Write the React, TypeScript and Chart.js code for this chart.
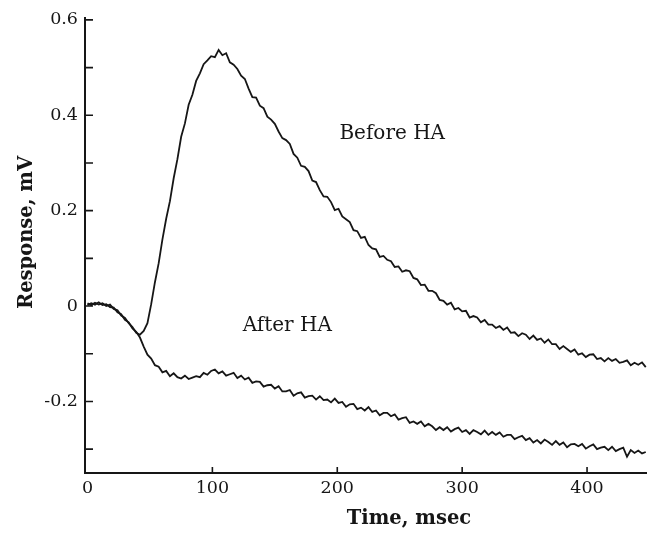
import { useEffect, useRef } from "react";
import { Chart, registerables } from "chart.js";

Chart.register(...registerables);

// Sampling times (ms)
const TIME_MS = [
  0, 3, 6, 9, 12, 15, 18, 21, 24, 27,
  30, 33, 36, 39, 42, 45, 48, 51, 54, 57,
  60, 63, 66, 69, 72, 75, 78, 81, 84, 87,
  90, 93, 96, 99, 102, 105, 108, 111, 114, 117,
  120, 123, 126, 129, 132, 135, 138, 141, 144, 147,
  150, 153, 156, 159, 162, 165, 168, 171, 174, 177,
  180, 183, 186, 189, 192, 195, 198, 201, 204, 207,
  210, 213, 216, 219, 222, 225, 228, 231, 234, 237,
  240, 243, 246, 249, 252, 255, 258, 261, 264, 267,
  270, 273, 276, 279, 282, 285, 288, 291, 294, 297,
  300, 303, 306, 309, 312, 315, 318, 321, 324, 327,
  330, 333, 336, 339, 342, 345, 348, 351, 354, 357,
  360, 363, 366, 369, 372, 375, 378, 381, 384, 387,
  390, 393, 396, 399, 402, 405, 408, 411, 414, 417,
  420, 423, 426, 429, 432, 435, 438, 441, 444, 447,
];

// Response before HA (mV)
const BEFORE_HA = [
  0.006, 0.002, 0.007, 0.003, 0.006, 0.000, 0.003, -0.006, -0.009, -0.020,
  -0.025, -0.036, -0.044, -0.056, -0.060, -0.052, -0.036, 0.004, 0.050, 0.090,
  0.140, 0.183, 0.220, 0.268, 0.308, 0.355, 0.383, 0.422, 0.443, 0.472,
  0.488, 0.507, 0.515, 0.524, 0.522, 0.537, 0.526, 0.530, 0.511, 0.506,
  0.497, 0.483, 0.476, 0.456, 0.438, 0.437, 0.420, 0.415, 0.397, 0.391,
  0.382, 0.366, 0.352, 0.348, 0.340, 0.319, 0.311, 0.294, 0.292, 0.283,
  0.263, 0.260, 0.243, 0.230, 0.229, 0.218, 0.201, 0.204, 0.188, 0.182,
  0.176, 0.159, 0.157, 0.143, 0.145, 0.128, 0.121, 0.119, 0.103, 0.105,
  0.097, 0.094, 0.082, 0.083, 0.072, 0.075, 0.073, 0.059, 0.056, 0.044,
  0.045, 0.032, 0.032, 0.027, 0.013, 0.011, 0.003, 0.007, -0.007, -0.004,
  -0.011, -0.010, -0.024, -0.021, -0.024, -0.034, -0.029, -0.039, -0.039, -0.046,
  -0.042, -0.050, -0.045, -0.056, -0.055, -0.063, -0.057, -0.060, -0.069, -0.062,
  -0.071, -0.068, -0.077, -0.070, -0.080, -0.080, -0.090, -0.084, -0.090, -0.096,
  -0.091, -0.102, -0.099, -0.107, -0.102, -0.101, -0.111, -0.109, -0.116, -0.109,
  -0.115, -0.111, -0.119, -0.117, -0.114, -0.124, -0.119, -0.123, -0.118, -0.128,
];

// Response after HA (mV)
const AFTER_HA = [
  0.002, 0.006, 0.003, 0.008, 0.002, 0.004, -0.002, -0.003, -0.013, -0.017,
  -0.029, -0.034, -0.047, -0.054, -0.066, -0.085, -0.102, -0.110, -0.124, -0.127,
  -0.139, -0.136, -0.147, -0.141, -0.149, -0.152, -0.146, -0.153, -0.150, -0.147,
  -0.149, -0.140, -0.144, -0.136, -0.133, -0.141, -0.137, -0.146, -0.143, -0.140,
  -0.151, -0.146, -0.154, -0.150, -0.161, -0.158, -0.159, -0.169, -0.166, -0.165,
  -0.173, -0.168, -0.179, -0.179, -0.176, -0.188, -0.183, -0.181, -0.192, -0.189,
  -0.188, -0.196, -0.189, -0.197, -0.196, -0.202, -0.194, -0.203, -0.201, -0.211,
  -0.206, -0.205, -0.216, -0.213, -0.219, -0.212, -0.222, -0.219, -0.229, -0.224,
  -0.224, -0.231, -0.227, -0.238, -0.235, -0.233, -0.245, -0.242, -0.247, -0.242,
  -0.252, -0.247, -0.252, -0.260, -0.254, -0.260, -0.254, -0.263, -0.258, -0.255,
  -0.264, -0.260, -0.268, -0.260, -0.264, -0.269, -0.261, -0.270, -0.264, -0.270,
  -0.265, -0.274, -0.270, -0.270, -0.279, -0.275, -0.272, -0.281, -0.277, -0.286,
  -0.281, -0.288, -0.280, -0.285, -0.291, -0.283, -0.291, -0.286, -0.296, -0.290,
  -0.289, -0.294, -0.289, -0.299, -0.294, -0.290, -0.300, -0.297, -0.295, -0.302,
  -0.295, -0.304, -0.300, -0.297, -0.316, -0.302, -0.308, -0.303, -0.309, -0.306,
];

const X_TICKS = [0, 100, 200, 300, 400];
const X_TICK_LABELS = ["0", "100", "200", "300", "400"];
const Y_TICKS = [-0.3, -0.2, -0.1, 0, 0.1, 0.2, 0.3, 0.4, 0.5, 0.6];
const Y_TICK_LABELS = ["", "-0.2", "", "0", "", "0.2", "", "0.4", "", "0.6"];

const X_TITLE = "Time, msec";
const Y_TITLE = "Response, mV";

const ANNOTATION_TEXT = ["Before HA", "After HA"];
const ANNOTATION_T = [244, 160];
const ANNOTATION_V = [0.362, -0.042];

const INK = "#161616";
const SERIF = '"DejaVu Serif", serif';

const decorPlugin = {
  id: "decor",
  afterDraw(chart: any) {
    const { ctx, chartArea } = chart;
    const x = chart.scales.x;
    const y = chart.scales.y;
    ctx.save();
    // inward tick marks
    ctx.strokeStyle = INK;
    ctx.lineWidth = 1.6;
    ctx.beginPath();
    for (const v of Y_TICKS) {
      const py = y.getPixelForValue(v);
      ctx.moveTo(chartArea.left, py);
      ctx.lineTo(chartArea.left + 8, py);
    }
    for (const v of X_TICKS) {
      if (v === 0) continue;
      const px = x.getPixelForValue(v);
      ctx.moveTo(px, chartArea.bottom);
      ctx.lineTo(px, chartArea.bottom - 6);
    }
    ctx.stroke();

    // curve labels
    ctx.fillStyle = INK;
    ctx.font = `20px ${SERIF}`;
    ctx.textAlign = "center";
    ctx.textBaseline = "middle";
    ANNOTATION_TEXT.forEach((txt, i) => {
      ctx.fillText(txt, x.getPixelForValue(ANNOTATION_T[i]), y.getPixelForValue(ANNOTATION_V[i]));
    });

    // axis titles
    ctx.font = `bold 19.5px ${SERIF}`;
    ctx.textBaseline = "alphabetic";
    ctx.fillText(X_TITLE, chartArea.left + 324, chartArea.bottom + 51);

    ctx.translate(32, chartArea.top + 215);
    ctx.rotate(-Math.PI / 2);
    ctx.fillText(Y_TITLE, 0, 0);
    ctx.restore();
  },
};

export default function App() {
  const canvasRef = useRef<HTMLCanvasElement | null>(null);

  useEffect(() => {
    if (!canvasRef.current) return;
    const mk = (vals: number[]) => TIME_MS.map((t, i) => ({ x: t, y: vals[i] }));
    const chart = new Chart(canvasRef.current, {
      type: "line",
      data: {
        datasets: [
          {
            label: "Before HA",
            data: mk(BEFORE_HA),
            borderColor: INK,
            borderWidth: 1.8,
            pointRadius: 0,
            tension: 0,
            fill: false,
          },
          {
            label: "After HA",
            data: mk(AFTER_HA),
            borderColor: INK,
            borderWidth: 1.8,
            pointRadius: 0,
            tension: 0,
            fill: false,
          },
        ],
      },
      options: {
        animation: false,
        responsive: true,
        maintainAspectRatio: false,
        layout: { padding: { top: 14, right: 0, left: 0, bottom: 0 } },
        plugins: {
          legend: { display: false },
          tooltip: { enabled: false },
        },
        scales: {
          x: {
            type: "linear",
            min: -2,
            max: 448,
            afterBuildTicks: (s: any) => {
              s.ticks = X_TICKS.map((v) => ({ value: v }));
            },
            afterFit: (s: any) => {
              s.height = 63;
            },
            ticks: {
              callback: (_v: any, i: number) => X_TICK_LABELS[i],
              font: { family: SERIF, size: 17.5 },
              color: INK,
              padding: 5,
              maxRotation: 0,
              autoSkip: false,
            },
            grid: { drawOnChartArea: false, drawTicks: false },
            border: { color: INK, width: 2 },
          },
          y: {
            type: "linear",
            min: -0.35,
            max: 0.605,
            afterBuildTicks: (s: any) => {
              s.ticks = Y_TICKS.map((v) => ({ value: v }));
            },
            afterFit: (s: any) => {
              s.width = 85;
            },
            ticks: {
              callback: (_v: any, i: number) => Y_TICK_LABELS[i],
              font: { family: SERIF, size: 17.5 },
              color: INK,
              padding: 7,
              autoSkip: false,
            },
            grid: { drawOnChartArea: false, drawTicks: false },
            border: { color: INK, width: 2 },
          },
        },
      },
      plugins: [decorPlugin],
    });
    return () => chart.destroy();
  }, []);

  return (
    <div style={{ position: "absolute", left: 0, top: 0, width: 647, height: 536, background: "#fff" }}>
      <canvas ref={canvasRef} />
    </div>
  );
}
